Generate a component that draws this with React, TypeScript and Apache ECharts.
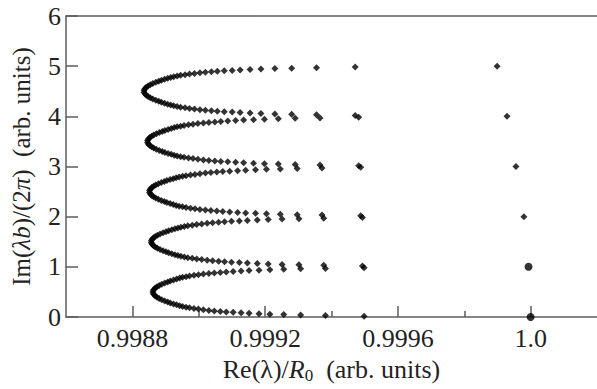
import React, { useEffect, useRef } from "react";
import * as echarts from "echarts";

// ---- axis ticks ----
const xTickValues = [0.9988, 0.9992, 0.9996, 1.0];
const xTickLabels = ["0.9988", "0.9992", "0.9996", "1.0"];
const xMinorTickValues = [0.999, 0.9994, 0.9998];

// ---- loop centred at Im = 4.5 ----
const loop45X = [0.9988353, 0.9988377, 0.9988419, 0.9988473, 0.9988538, 0.9988616, 0.9988706, 0.9988795, 0.9988875, 0.998897, 0.9989064, 0.9989154, 0.9989244, 0.9989348, 0.9989453, 0.9989587, 0.9989722, 0.9989871, 0.9990036, 0.999020, 0.999038, 0.9990559, 0.9990768, 0.9991007, 0.9991247, 0.9991546, 0.9991874, 0.9992293, 0.9992801, 0.9993548, 0.9994714];
const loop45Upper = [4.52, 4.55, 4.58, 4.605, 4.63, 4.655, 4.68, 4.7, 4.72, 4.74, 4.758, 4.775, 4.79, 4.804, 4.817, 4.83, 4.842, 4.856, 4.868, 4.879, 4.889, 4.898, 4.907, 4.916, 4.925, 4.934, 4.943, 4.952, 4.96, 4.969, 4.983];
const loop45Lower = [4.48, 4.45, 4.42, 4.395, 4.37, 4.345, 4.32, 4.3, 4.28, 4.26, 4.242, 4.225, 4.21, 4.196, 4.183, 4.17, 4.158, 4.144, 4.132, 4.121, 4.111, 4.102, 4.093, 4.084, 4.075, 4.066, 4.057, 4.048, 4.04, 4.031, 4.017];

// ---- loop centred at Im = 3.5 ----
const loop35X = [0.9988458, 0.9988482, 0.9988524, 0.9988578, 0.9988643, 0.9988721, 0.9988811, 0.99889, 0.998898, 0.9989075, 0.9989169, 0.9989259, 0.9989349, 0.9989453, 0.9989558, 0.9989692, 0.9989827, 0.9989976, 0.9990141, 0.9990305, 0.9990485, 0.9990664, 0.9990873, 0.9991112, 0.9991352, 0.9991651, 0.9991979, 0.9992398, 0.9992906, 0.9993653, 0.9994819];
const loop35Upper = [3.52, 3.55, 3.58, 3.605, 3.63, 3.655, 3.68, 3.7, 3.72, 3.74, 3.758, 3.775, 3.79, 3.804, 3.817, 3.83, 3.842, 3.856, 3.868, 3.879, 3.889, 3.898, 3.907, 3.916, 3.925, 3.934, 3.943, 3.952, 3.96, 3.969, 3.983];
const loop35Lower = [3.48, 3.45, 3.42, 3.395, 3.37, 3.345, 3.32, 3.3, 3.28, 3.26, 3.242, 3.225, 3.21, 3.196, 3.183, 3.17, 3.158, 3.144, 3.132, 3.121, 3.111, 3.102, 3.093, 3.084, 3.075, 3.066, 3.057, 3.048, 3.04, 3.031, 3.017];

// ---- loop centred at Im = 2.5 ----
const loop25X = [0.9988518, 0.9988542, 0.9988584, 0.9988638, 0.9988703, 0.9988781, 0.9988871, 0.998896, 0.998904, 0.9989135, 0.9989229, 0.9989319, 0.9989409, 0.9989513, 0.9989618, 0.9989752, 0.9989887, 0.9990036, 0.9990201, 0.9990365, 0.9990545, 0.9990724, 0.9990933, 0.9991172, 0.9991412, 0.9991711, 0.9992039, 0.9992458, 0.9992966, 0.9993713, 0.9994879];
const loop25Upper = [2.52, 2.55, 2.58, 2.605, 2.63, 2.655, 2.68, 2.7, 2.72, 2.74, 2.758, 2.775, 2.79, 2.804, 2.817, 2.83, 2.842, 2.856, 2.868, 2.879, 2.889, 2.898, 2.907, 2.916, 2.925, 2.934, 2.943, 2.952, 2.96, 2.969, 2.983];
const loop25Lower = [2.48, 2.45, 2.42, 2.395, 2.37, 2.345, 2.32, 2.3, 2.28, 2.26, 2.242, 2.225, 2.21, 2.196, 2.183, 2.17, 2.158, 2.144, 2.132, 2.121, 2.111, 2.102, 2.093, 2.084, 2.075, 2.066, 2.057, 2.048, 2.04, 2.031, 2.017];

// ---- loop centred at Im = 1.5 ----
const loop15X = [0.9988571, 0.9988595, 0.9988637, 0.9988691, 0.9988756, 0.9988834, 0.9988924, 0.9989013, 0.9989093, 0.9989188, 0.9989282, 0.9989372, 0.9989462, 0.9989566, 0.9989671, 0.9989805, 0.998994, 0.9990089, 0.9990254, 0.9990418, 0.9990598, 0.9990777, 0.9990986, 0.9991225, 0.9991465, 0.9991764, 0.9992092, 0.9992511, 0.9993019, 0.9993766, 0.9994932];
const loop15Upper = [1.52, 1.55, 1.58, 1.605, 1.63, 1.655, 1.68, 1.7, 1.72, 1.74, 1.758, 1.775, 1.79, 1.804, 1.817, 1.83, 1.842, 1.856, 1.868, 1.879, 1.889, 1.898, 1.907, 1.916, 1.925, 1.934, 1.943, 1.952, 1.96, 1.969, 1.983];
const loop15Lower = [1.48, 1.45, 1.42, 1.395, 1.37, 1.345, 1.32, 1.3, 1.28, 1.26, 1.242, 1.225, 1.21, 1.196, 1.183, 1.17, 1.158, 1.144, 1.132, 1.121, 1.111, 1.102, 1.093, 1.084, 1.075, 1.066, 1.057, 1.048, 1.04, 1.031, 1.017];

// ---- loop centred at Im = 0.5 ----
const loop05X = [0.9988622, 0.9988646, 0.9988688, 0.9988742, 0.9988807, 0.9988885, 0.9988975, 0.9989064, 0.9989144, 0.9989239, 0.9989333, 0.9989423, 0.9989513, 0.9989617, 0.9989722, 0.9989856, 0.9989991, 0.999014, 0.9990305, 0.9990469, 0.9990649, 0.9990828, 0.9991037, 0.9991276, 0.9991516, 0.9991815, 0.9992143, 0.9992562, 0.999307, 0.9993817, 0.9994983];
const loop05Upper = [0.52, 0.55, 0.58, 0.605, 0.63, 0.655, 0.68, 0.7, 0.72, 0.74, 0.758, 0.775, 0.79, 0.804, 0.817, 0.83, 0.842, 0.856, 0.868, 0.879, 0.889, 0.898, 0.907, 0.916, 0.925, 0.934, 0.943, 0.952, 0.96, 0.969, 0.983];
const loop05Lower = [0.48, 0.45, 0.42, 0.395, 0.37, 0.345, 0.32, 0.3, 0.28, 0.26, 0.242, 0.225, 0.21, 0.196, 0.183, 0.17, 0.158, 0.144, 0.132, 0.121, 0.111, 0.102, 0.093, 0.084, 0.075, 0.066, 0.057, 0.048, 0.04, 0.031, 0.017];

// ---- isolated points near Re = 1 ----
const edgeX = [0.999899, 0.9999289, 0.9999558, 0.9999797];
const edgeY = [5, 4, 3, 2];
const bigDotX = [0.9999937, 1.0];
const bigDotY = [1, 0];

const FONT = "Liberation Serif";
const LINE = "#5c5c5c";
const TEXT = "#222";

export default function App() {
  const ref = useRef<HTMLDivElement>(null);

  useEffect(() => {
    if (!ref.current) return;
    const chart = echarts.init(ref.current, undefined, { renderer: "svg" });

    const loops = [
      [loop45X, loop45Upper, loop45Lower],
      [loop35X, loop35Upper, loop35Lower],
      [loop25X, loop25Upper, loop25Lower],
      [loop15X, loop15Upper, loop15Lower],
      [loop05X, loop05Upper, loop05Lower],
    ];
    const armData: number[][] = [];
    loops.forEach(([xs, up, dn]) => {
      xs.forEach((x, i) => {
        armData.push([x, up[i]]);
        armData.push([x, dn[i]]);
      });
    });
    const edgeData = edgeX.map((x, i) => [x, edgeY[i]]);
    const bigData = bigDotX.map((x, i) => [x, bigDotY[i]]);

    const xMin = 0.9986;
    const xMax = 1.0002;
    const labelStyle = { fontSize: 26, fontFamily: FONT, color: TEXT };

    chart.setOption({
      animation: false,
      textStyle: { fontFamily: FONT, fontSize: 24, color: TEXT },
      grid: { left: 66, top: 16, right: -4, bottom: 67 },
      xAxis: [
        {
          type: "value",
          position: "bottom",
          min: xMin,
          max: xMax,
          axisLine: { show: true, lineStyle: { color: LINE, width: 1.5 } },
          axisTick: {
            show: true,
            inside: true,
            length: 11,
            customValues: xTickValues,
            lineStyle: { color: LINE, width: 1.5 },
          },
          axisLabel: {
            show: true,
            customValues: xTickValues,
            margin: 8,
            ...labelStyle,
            formatter: (v: number) => {
              const i = xTickValues.findIndex((t) => Math.abs(t - v) < 1e-7);
              return i >= 0 ? xTickLabels[i] : "";
            },
          },
          splitLine: { show: false },
          name: "{n|Re(λ)/}{i|R}{s|0}{n|  (arb. units)}",
          nameLocation: "middle",
          nameGap: 37,
          nameTextStyle: {
            fontSize: 26,
            fontFamily: FONT,
            color: TEXT,
            rich: {
              n: { fontSize: 26, fontFamily: FONT, color: TEXT },
              i: { fontSize: 26, fontFamily: FONT, color: TEXT, fontStyle: "italic" },
              s: { fontSize: 17, fontFamily: FONT, color: TEXT, padding: [13, 0, 0, 0] },
            },
          },
        },
        {
          type: "value",
          position: "bottom",
          min: xMin,
          max: xMax,
          axisLine: { show: false },
          axisTick: {
            show: true,
            inside: true,
            length: 6,
            customValues: xMinorTickValues,
            lineStyle: { color: LINE, width: 1.5 },
          },
          axisLabel: { show: false },
          splitLine: { show: false },
        },
        {
          type: "value",
          position: "top",
          min: xMin,
          max: xMax,
          axisLine: { show: true, lineStyle: { color: LINE, width: 1.5 } },
          axisTick: { show: false },
          axisLabel: { show: false },
          splitLine: { show: false },
        },
      ],
      yAxis: {
        type: "value",
        min: 0,
        max: 6,
        interval: 1,
        axisLine: { show: true, lineStyle: { color: LINE, width: 1.5 } },
        axisTick: { show: true, inside: true, length: 12, lineStyle: { color: LINE, width: 1.5 } },
        axisLabel: { margin: 5, ...labelStyle },
        splitLine: { show: false },
        name: "{n|Im(}{i|λb}{n|)/(2}{i|π}{n|)  (arb. units)}",
        nameLocation: "middle",
        nameRotate: 90,
        nameGap: 32,
        nameTextStyle: {
          fontSize: 25,
          fontFamily: FONT,
          color: TEXT,
          rich: {
            n: { fontSize: 25, fontFamily: FONT, color: TEXT },
            i: { fontSize: 25, fontFamily: FONT, color: TEXT, fontStyle: "italic" },
          },
        },
      },
      series: [
        {
          type: "scatter",
          xAxisIndex: 0,
          symbol: "diamond",
          symbolSize: 7,
          itemStyle: { color: "#000" },
          clip: false,
          silent: true,
          data: armData,
        },
        {
          type: "scatter",
          xAxisIndex: 0,
          symbol: "diamond",
          symbolSize: 7,
          itemStyle: { color: "#000" },
          clip: false,
          silent: true,
          data: edgeData,
        },
        {
          type: "scatter",
          xAxisIndex: 0,
          symbol: "circle",
          symbolSize: 8,
          itemStyle: { color: "#000" },
          clip: false,
          silent: true,
          data: bigData,
        },
      ],
    });

    return () => chart.dispose();
  }, []);

  return (
    <div
      ref={ref}
      style={{ position: "fixed", left: 0, top: 0, width: 597, height: 389, background: "#fff" }}
    />
  );
}
